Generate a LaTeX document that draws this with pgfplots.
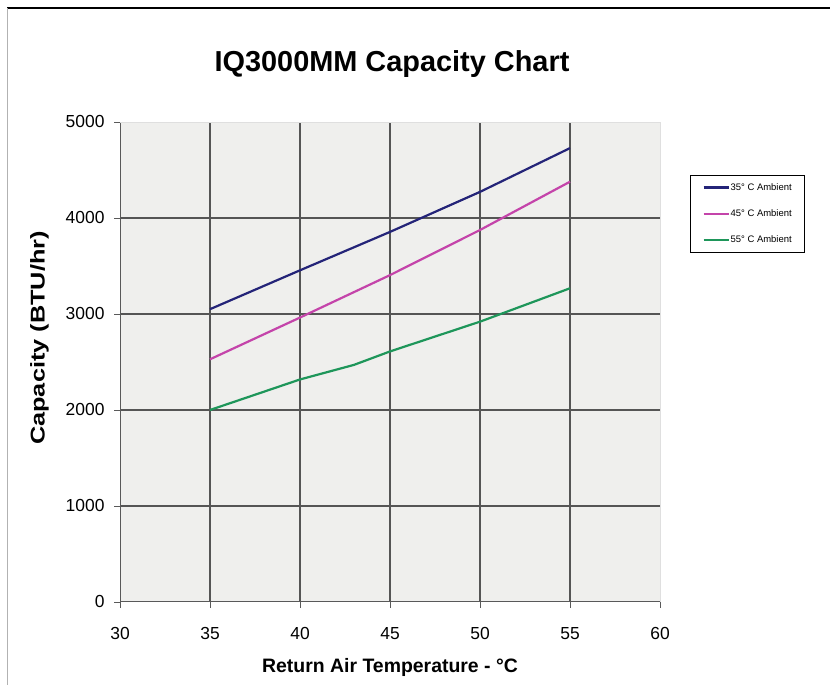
\documentclass[border=0pt]{standalone}
\usepackage{pgfplots}
\pgfplotsset{compat=1.18}
\usepackage{fontspec}
\setmainfont{Liberation Sans}
\definecolor{bgc}{RGB}{239,239,237}
\definecolor{gridc}{RGB}{85,85,85}
\definecolor{c35}{RGB}{36,36,120}
\definecolor{c45}{RGB}{196,68,170}
\definecolor{c55}{RGB}{30,150,90}
\begin{document}
\begin{tikzpicture}[x=1bp,y=1bp]
\path[use as bounding box] (0,0) rectangle (830,685);
\fill[white] (0,0) rectangle (830,685);
\draw[black,line width=1.6bp] (7,677) -- (830,677);
\draw[gray!60,line width=0.8bp] (7.5,677) -- (7.5,0);
\begin{axis}[
  at={(120bp,83bp)}, anchor=origin,
  scale only axis, width=540bp, height=480bp,
  xmin=30, xmax=60, ymin=0, ymax=5000,
  xtick={30,35,...,60}, ytick={0,1000,...,5000},
  xtick pos=bottom, ytick pos=left,
  extra x ticks={35,40,45,50,55}, extra y ticks={1000,2000,3000,4000},
  extra x tick labels={}, extra y tick labels={},
  extra tick style={grid=major},
  grid style={gridc, line width=1.1bp},
  axis background/.style={fill=bgc},
  axis line style={draw=none},
  tick align=outside, major tick length=6bp,
  tick style={gray!70!black, line width=0.8bp},
  every tick label/.append style={font=\fontsize{17.5}{20}\selectfont},
  /pgf/number format/assume math mode=true,
  /pgf/number format/1000 sep={},
  xticklabel style={yshift=-16bp},
  yticklabel style={xshift=-6bp},
  xlabel={\textbf{Return Air Temperature - °C}},
  ylabel={\scalebox{1.27}[1]{\fontsize{20}{22}\selectfont\textbf{Capacity (BTU/hr)}}},
  xlabel style={font=\fontsize{19.5}{22}\selectfont, yshift=0bp},
  ylabel style={at={(ticklabel cs:0.55)}, yshift=-2bp},
  legend style={at={(1.0556,0.8896)}, anchor=north west, draw=black, line width=0.8bp,
    font=\fontsize{9.5}{11}\selectfont, row sep=14bp, inner xsep=12bp, inner ysep=6bp,
    nodes={inner xsep=1bp}},
  legend cell align=left,
  legend image code/.code={\draw[#1, line width=2.2bp] (0bp,0bp) -- (25bp,0bp);},
  clip=false,
]
\addplot[c35, line width=2.2bp] coordinates {(35,3050) (40,3455) (45,3855) (50,4272) (55,4728)};
\addlegendentry{35° C Ambient}
\addplot[c45, line width=2.2bp] coordinates {(35,2528) (40,2963) (45,3405) (50,3875) (55,4378)};
\addlegendentry{45° C Ambient}
\addplot[c55, line width=2.2bp] coordinates {(35,2000) (40,2318) (43,2470) (45,2610) (50,2920) (55,3268)};
\addlegendentry{55° C Ambient}
\draw[gray!70!black, line width=1bp] (rel axis cs:0,0) -- (rel axis cs:0,1);
\draw[gray!70!black, line width=1bp] (rel axis cs:0,0) -- (rel axis cs:1,0);
\draw[gray!25, line width=0.8bp] (rel axis cs:0,1) -- (rel axis cs:1,1) -- (rel axis cs:1,0);
\end{axis}
\node[font=\bfseries\fontsize{29}{32}\selectfont] at (392,621) {IQ3000MM Capacity Chart};
\end{tikzpicture}
\end{document}
